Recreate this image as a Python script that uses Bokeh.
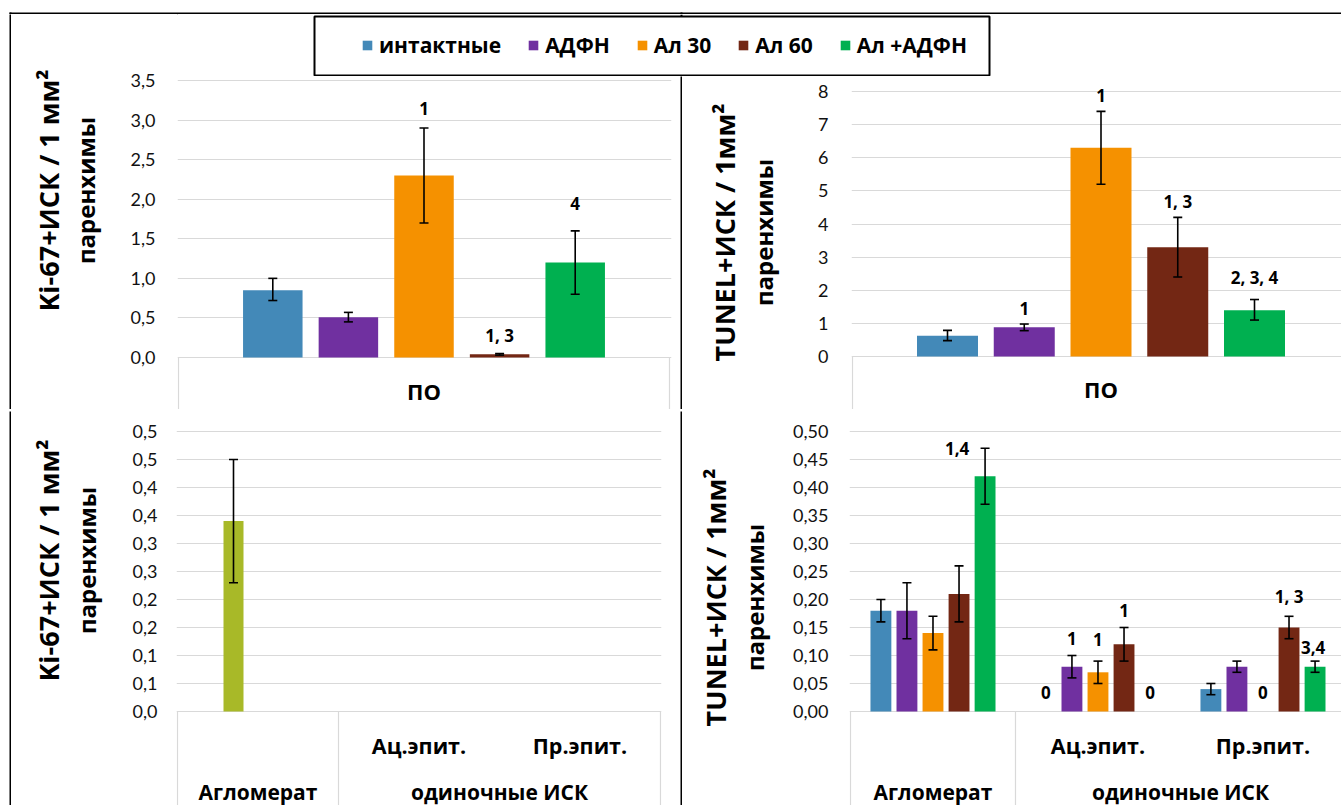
import math
from bokeh.plotting import figure
from bokeh.models import (Range1d, FixedTicker, ColumnDataSource, Whisker, TeeHead,
                          Legend, LegendItem)
from bokeh.layouts import row, column
from bokeh.embed import file_html
from bokeh.resources import INLINE
from bokeh.core.properties import value
from bokeh.core.validation import silence
from bokeh.core.validation.warnings import MISSING_RENDERERS

silence(MISSING_RENDERERS, True)

# ---------------- data ----------------
series_names = ["интактные", "АДФН", "Ал 30", "Ал 60", "Ал +АДФН"]
series_colors = ["#4389b8", "#7030a0", "#f59100", "#732714", "#00b050"]

top_category = ["ПО"]

ki_po_mean = [0.85, 0.51, 2.30, 0.04, 1.20]
ki_po_low = [0.72, 0.45, 1.70, 0.03, 0.80]
ki_po_high = [1.00, 0.57, 2.90, 0.05, 1.60]
ki_po_marks = ["", "", "1", "1, 3", "4"]

tunel_po_mean = [0.63, 0.88, 6.30, 3.30, 1.40]
tunel_po_low = [0.48, 0.78, 5.20, 2.40, 1.10]
tunel_po_high = [0.79, 0.98, 7.40, 4.20, 1.72]
tunel_po_marks = ["", "1", "1", "1, 3", "2, 3, 4"]

bottom_groups = ["Агломерат", "одиночные ИСК", "одиночные ИСК"]
bottom_subcats = ["", "Ац.эпит.", "Пр.эпит."]

ki_ep_mean = [0.34, 0.0, 0.0]
ki_ep_low = [0.23, None, None]
ki_ep_high = [0.45, None, None]
ki_ep_color = "#a8b928"

# rows: series, columns: bottom categories
tunel_ep_mean = [[0.18, 0.00, 0.04],
                 [0.18, 0.08, 0.08],
                 [0.14, 0.07, 0.00],
                 [0.21, 0.12, 0.15],
                 [0.42, 0.00, 0.08]]
tunel_ep_low = [[0.16, None, 0.03],
                [0.13, 0.06, 0.07],
                [0.11, 0.05, None],
                [0.16, 0.09, 0.13],
                [0.37, None, 0.07]]
tunel_ep_high = [[0.20, None, 0.05],
                 [0.23, 0.10, 0.09],
                 [0.17, 0.09, None],
                 [0.26, 0.15, 0.17],
                 [0.47, None, 0.09]]
tunel_ep_marks = [["", "0", ""],
                  ["", "1", ""],
                  ["", "1", "0"],
                  ["", "1", "1, 3"],
                  ["1,4", "0", "3,4"]]

ki_po_ticks = [0.0, 0.5, 1.0, 1.5, 2.0, 2.5, 3.0, 3.5]
ki_po_tick_labels = ["0,0", "0,5", "1,0", "1,5", "2,0", "2,5", "3,0", "3,5"]
tunel_po_ticks = [0, 1, 2, 3, 4, 5, 6, 7, 8]
tunel_po_tick_labels = ["0", "1", "2", "3", "4", "5", "6", "7", "8"]
ep_ticks = [0.0, 0.05, 0.1, 0.15, 0.2, 0.25, 0.3, 0.35, 0.4, 0.45, 0.5]
ki_ep_tick_labels = ["0,0", "0,1", "0,1", "0,2", "0,2", "0,3", "0,3", "0,4", "0,4", "0,5", "0,5"]
tunel_ep_tick_labels = ["0,00", "0,05", "0,10", "0,15", "0,20", "0,25", "0,30", "0,35",
                        "0,40", "0,45", "0,50"]

ki_title = ["Ki-67+ИСК / 1 мм²", "паренхимы"]
tunel_title = ["TUNEL+ИСК / 1мм²", "паренхимы"]

# ---------------- styles / layout ----------------
FONT = "Open Sans"
TICK_FONT = "Lato"
GRID = "#d9d9d9"
TOTAL_W = 1341


def strip(w, h, color="black"):
    s = figure(width=w, height=h, min_border=0, toolbar_location=None,
               output_backend="svg", x_axis_location=None, y_axis_location=None,
               outline_line_color=None, background_fill_color=color,
               border_fill_color=color)
    s.grid.visible = False
    return s


def page_fig(fx, fw, fy, fh):
    t = figure(width=fw, height=fh, x_range=Range1d(fx, fx + fw), y_range=Range1d(fy + fh, fy),
               min_border=0, toolbar_location=None, output_backend="svg",
               x_axis_location=None, y_axis_location=None, outline_line_color=None)
    t.grid.visible = False
    return t


def style_axis(ax, ticks, tick_labels, standoff):
    ax.ticker = FixedTicker(ticks=ticks)
    ax.major_label_overrides = {t: l for t, l in zip(ticks, tick_labels)}
    ax.axis_line_color = None
    ax.major_tick_line_color = None
    ax.minor_tick_line_color = None
    ax.major_tick_out = 0
    ax.major_tick_in = 0
    ax.major_label_standoff = standoff
    ax.major_label_text_font = TICK_FONT
    ax.major_label_text_font_size = "18px"
    ax.major_label_text_color = "#111111"


def make_panel(fig, frame_x, group, yscale, ticks, tick_labels, axis=None, standoff=20):
    fx, fw, fy, fh = fig
    fl, fr = frame_x
    gl, gw = group
    zero, top, tmax = yscale
    upp = tmax / (zero - top)
    xr = Range1d((fl - gl) / gw, (fr - gl) / gw)
    yr = Range1d(-(fy + fh - zero) * upp, (zero - fy) * upp)
    p = figure(width=fw, height=fh, x_range=xr, y_range=yr,
               min_border_left=fl - fx, min_border_right=fx + fw - fr,
               min_border_top=0, min_border_bottom=0,
               x_axis_location=None, y_axis_location=axis,
               toolbar_location=None, output_backend="svg", outline_line_color=None)
    if axis is not None:
        style_axis(p.yaxis[0], ticks, tick_labels, standoff)
    p.ygrid.ticker = FixedTicker(ticks=ticks)
    p.ygrid.grid_line_color = GRID
    p.ygrid.grid_line_width = 1
    p.xgrid.visible = False
    return p


def side_axis_fig(fig, frame_r, yscale, ticks, tick_labels, standoff):
    # title area + y axis drawn on the right of a white frame
    fx, fw, fy, fh = fig
    zero, top, tmax = yscale
    upp = tmax / (zero - top)
    s = figure(width=fw, height=fh, x_range=Range1d(fx, frame_r),
               y_range=Range1d(-(fy + fh - zero) * upp, (zero - fy) * upp),
               min_border_left=0, min_border_right=fx + fw - frame_r,
               min_border_top=0, min_border_bottom=0,
               x_axis_location=None, y_axis_location="right",
               toolbar_location=None, output_backend="svg", outline_line_color=None)
    style_axis(s.yaxis[0], ticks, tick_labels, standoff)
    s.grid.visible = False
    return s, (lambda py: (zero - py) * upp)


def draw_title(t, lines, x1, x2, yc, yconv=lambda v: v):
    for txt, xp, size in ((lines[0], x1, "27px"), (lines[1], x2, "24px")):
        t.text(x=[xp], y=[yconv(yc)], text=[txt], angle=math.pi / 2,
               text_font=value(FONT), text_font_style="bold", text_font_size=size,
               text_align="center", text_baseline="middle", text_color="black")


def bars(p, xs, tops, colors, width):
    src = ColumnDataSource(dict(x=xs, top=tops, color=colors))
    p.vbar(x="x", top="top", bottom=0, width=width, fill_color="color",
           line_color=None, source=src)


def errors(p, xs, lows, highs):
    keep = [i for i in range(len(xs)) if lows[i] is not None]
    src = ColumnDataSource(dict(x=[xs[i] for i in keep], lo=[lows[i] for i in keep],
                                hi=[highs[i] for i in keep]))
    w = Whisker(source=src, base="x", lower="lo", upper="hi", line_color="black",
                line_width=1.6, level="annotation",
                lower_head=TeeHead(size=9, line_color="black", line_width=1.6),
                upper_head=TeeHead(size=9, line_color="black", line_width=1.6))
    p.add_layout(w)


def marks(p, xs, ys, texts, dxs, dys):
    keep = [i for i in range(len(xs)) if texts[i]]
    src = ColumnDataSource(dict(x=[xs[i] for i in keep], y=[ys[i] for i in keep],
                                t=[texts[i] for i in keep], dx=[dxs[i] for i in keep],
                                dy=[dys[i] for i in keep]))
    p.text(x="x", y="y", text="t", x_offset="dx", y_offset="dy", source=src,
           text_font=value(FONT), text_font_style="bold", text_font_size="17px",
           text_align="center", text_baseline="middle", text_color="black")


def cat_text(p, xs, texts, yoff, size="21.5px"):
    p.text(x=xs, y=[0] * len(xs), text=texts, y_offset=yoff,
           text_font=value(FONT), text_font_style="bold", text_font_size=size,
           text_align="center", text_baseline="middle", text_color="black")


def separators(p, bounds):
    yb = p.y_range.start
    p.segment(x0=bounds, y0=[0] * len(bounds), x1=bounds, y1=[yb] * len(bounds),
              line_color=GRID, line_width=1.2)


n_series = len(series_names)
TOP_Y0, TOP_H = 76, 333
BOT_Y0, BOT_H = 411, 394

# ---- top border strip (y 0..14) ----
TOP = page_fig(0, TOTAL_W, 0, 14)
TOP.quad(left=[9, 9, 680], right=[TOTAL_W, 11, 682], top=[12, 12, 12], bottom=[14, 14, 14],
         fill_color="black", line_color=None)

# ---- top-left: Ki-67 ПО ----
TLS, tl_y = side_axis_fig((11, 166, 14, 395), 128, (357, 80, 3.5),
                          ki_po_ticks, ki_po_tick_labels, 2)
draw_title(TLS, ki_title, 47.5, 85, 190, tl_y)
TL = make_panel((177, 503, TOP_Y0, TOP_H), (177, 671), (178, 491), (357, 80, 3.5),
                ki_po_ticks, ki_po_tick_labels)
sp, bw = 75.6 / 491, 59.5 / 491
xs = [0.5 + (i - (n_series - 1) / 2) * sp for i in range(n_series)]
bars(TL, xs, ki_po_mean, series_colors, bw)
errors(TL, xs, ki_po_low, ki_po_high)
marks(TL, xs, ki_po_high, ki_po_marks, [0] * 5, [-18, -18, -19, -18, -27])
separators(TL, [0, 1])
cat_text(TL, [0.5], top_category, 33, "22px")

# ---- top-right: TUNEL ПО ----
TRT = page_fig(682, 108, TOP_Y0, TOP_H)
draw_title(TRT, tunel_title, 724, 762.5, 232)
TR = make_panel((790, 551, TOP_Y0, TOP_H), (851, 1341), (852, 497), (356, 91, 8),
                tunel_po_ticks, tunel_po_tick_labels, "left", 23)
sp, bw = 76.75 / 497, 61 / 497
xs = [0.5 + (i - (n_series - 1) / 2) * sp for i in range(n_series)]
bars(TR, xs, tunel_po_mean, series_colors, bw)
errors(TR, xs, tunel_po_low, tunel_po_high)
marks(TR, xs, tunel_po_high, tunel_po_marks, [0] * 5, [-16, -16, -16, -16, -22])
separators(TR, [0, 1])
cat_text(TR, [0.5], top_category, 32, "22px")

# bottom categories geometry
ncat = len(bottom_subcats)
bounds = [0] + [i for i in range(1, ncat) if bottom_groups[i] != bottom_groups[i - 1]] + [ncat]
group_names, group_x = [], []
for a, b in zip(bounds[:-1], bounds[1:]):
    group_names.append(bottom_groups[a])
    group_x.append((a + b) / 2)
sub_x = [i + 0.5 for i in range(ncat) if bottom_subcats[i]]
sub_t = [s for s in bottom_subcats if s]

# ---- bottom-left: Ki-67 epithelium ----
BLT = page_fig(11, 99, BOT_Y0, BOT_H)
draw_title(BLT, ki_title, 47.5, 85.5, 560)
BL = make_panel((110, 570, BOT_Y0, BOT_H), (176, 661), (177, 161), (711, 431, 0.5),
                ep_ticks, ki_ep_tick_labels, "left", 19)
sp, bw = 24.5 / 161, 20 / 161
slot = 1
xs = [i + 0.5 + (slot - (n_series - 1) / 2) * sp for i in range(ncat)]
bars(BL, xs, ki_ep_mean, [ki_ep_color] * ncat, bw)
errors(BL, xs, ki_ep_low, ki_ep_high)
separators(BL, bounds)
cat_text(BL, sub_x, sub_t, 34)
cat_text(BL, group_x, group_names, 80, "21px")

# ---- bottom-right: TUNEL epithelium ----
BRT = page_fig(682, 108, BOT_Y0, BOT_H)
draw_title(BRT, tunel_title, 714.5, 753.5, 597)
BR = make_panel((790, 551, BOT_Y0, BOT_H), (846, 1341), (847, 166), (711, 431, 0.5),
                ep_ticks, tunel_ep_tick_labels, "left", 21)
sp, bw = 26.2 / 166, 21 / 166
mark_dx = [[0, 0, 0], [0, 0, 0], [0, 0, 0], [0, 0, 0], [-28, 0, -2]]
mark_dy = [[-17, -19, -17], [-17, -17, -17], [-17, -22, -19], [-17, -17, -20], [0, -19, -14]]
for s in range(n_series):
    xs = [i + 0.5 + (s - (n_series - 1) / 2) * sp for i in range(ncat)]
    bars(BR, xs, tunel_ep_mean[s], [series_colors[s]] * ncat, bw)
    errors(BR, xs, tunel_ep_low[s], tunel_ep_high[s])
    anchors = [h if h is not None else 0 for h in tunel_ep_high[s]]
    marks(BR, xs, anchors, tunel_ep_marks[s], mark_dx[s], mark_dy[s])
separators(BR, bounds)
cat_text(BR, sub_x, sub_t, 34)
cat_text(BR, group_x, group_names, 80, "21px")

# ---- legend strip (x 177..1341, y 14..76) ----
LX0, LW, LY0, LH = 177, 1164, 14, 62
L = page_fig(LX0, LW, LY0, LH)
L.quad(left=[680], right=[682], top=[LY0], bottom=[LY0 + LH], fill_color="black",
       line_color=None)
L.quad(left=[314], right=[989], top=[16], bottom=[75], fill_color="white",
       line_color="black", line_width=2)
dummies = [L.vbar(x=[-5000], top=[1], width=1, fill_color=c, line_color=None)
           for c in series_colors]
leg = Legend(items=[LegendItem(label=n, renderers=[r]) for n, r in zip(series_names, dummies)],
             orientation="horizontal", location=(361 - LX0, 17), glyph_width=12,
             glyph_height=12, label_standoff=6, spacing=26, padding=0, margin=0,
             border_line_color=None, background_fill_alpha=0, label_text_font=FONT,
             label_text_font_style="bold", label_text_font_size="21px",
             label_text_color="black", label_height=24)
L.add_layout(leg)

layout = column(
    TOP,
    row(strip(9, 395, "white"), strip(2, 395), TLS,
        column(L, row(TL, strip(2, TOP_H), TRT, TR))),
    row(strip(9, 2, "white"), strip(TOTAL_W - 9, 2)),
    row(strip(9, BOT_H, "white"), strip(2, BOT_H), BLT, BL, strip(2, BOT_H), BRT, BR),
)

open("out.html", "w").write(file_html(layout, INLINE))
